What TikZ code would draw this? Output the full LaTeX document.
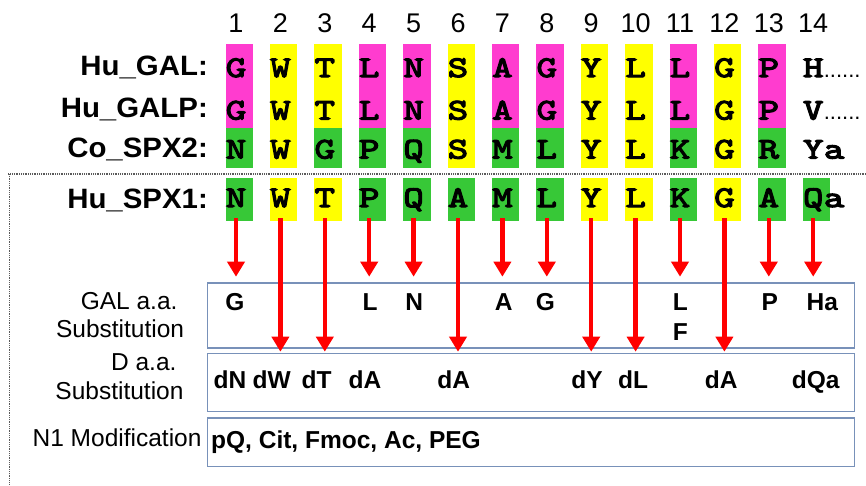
\documentclass[tikz,border=0pt]{standalone}
\usepackage{fontspec}
\setmainfont{Liberation Sans}
\newfontfamily\labfont{Liberation Sans}[FakeStretch=1.05]
\newfontfamily\aafont{lmmono10-regular.otf}[FakeBold=4,FakeStretch=1.3]
\usetikzlibrary{arrows.meta}
\definecolor{mag}{RGB}{255,60,207}
\definecolor{yel}{RGB}{255,255,0}
\definecolor{grn}{RGB}{55,200,55}
\definecolor{boxc}{RGB}{120,145,185}
\definecolor{sepc}{RGB}{90,90,90}
\begin{document}
\begin{tikzpicture}[x=1pt,y=-1pt,
  lab/.style={font=\labfont\fontsize{28}{30}\selectfont\bfseries, anchor=base east, inner sep=0},
  aa/.style={font=\aafont\fontsize{30}{32}\selectfont, anchor=base, inner sep=0},
  num/.style={font=\fontsize{27}{30}\selectfont, anchor=base, inner sep=0},
  sub/.style={font=\fontsize{24.5}{28}\selectfont\bfseries, anchor=base, inner sep=0},
  boxlab/.style={font=\fontsize{24.5}{28}\selectfont, anchor=base east, inner sep=0},
  panel/.style={draw=boxc, line width=1.3pt, fill=white, minimum width=647pt, inner sep=0, anchor=north west},
  arr/.style={draw=red, line width=4.5pt, -{Triangle[width=17pt,length=15pt]}},
  cell/.style={minimum width=27.5pt, minimum height=42.7pt, inner sep=0},
  sep/.style={draw=sepc, line width=1.3pt, dash pattern=on 1pt off 0.8pt},
]
\useasboundingbox (0,0) rectangle (866,485);

% separator
\draw[sep] (8.3,174) -- (866,174);
\draw[sep] (9.5,174) -- (9.5,485);

% row labels
\node[lab] (lgal)  at (208,75)    {Hu\_GAL:};
\node[lab] (lgalp) at (208,117.5) {Hu\_GALP:};
\node[lab] (lco)   at (208,157.7) {Co\_SPX2:};
\node[lab] (lspx)  at (208,208.3) {Hu\_SPX1:};

% top three rows
\foreach \i/\a/\b/\ca/\cb in {1/G/N/mag/grn, 2/W/W/yel/yel, 3/T/G/yel/grn, 4/L/P/mag/grn,
  5/N/Q/mag/grn, 6/S/S/yel/yel, 7/A/M/mag/grn, 8/G/L/mag/grn, 9/Y/Y/yel/yel,
  10/L/L/yel/yel, 11/L/K/mag/grn, 12/G/G/yel/yel, 13/P/R/mag/grn}{
  \pgfmathsetmacro{\c}{236+44.4*(\i-1)}
  \fill[\ca] ({\c-10.5},44.3) rectangle ({\c+17},128.2);
  \fill[\cb] ({\c-10.5},127.7) rectangle ({\c+17},168.3);
  \node[aa] (ra\i) at (\c,77) {\a};
  \node[aa] (rb\i) at (\c,119.5) {\a};
  \node[aa] (rc\i) at (\c,158.5) {\b};
}
\foreach \i in {1,...,14}{
  \pgfmathsetmacro{\c}{236+44.4*(\i-1)}
  \node[num] (n\i) at (\c,32) {\i};
}
% column 14 of the top rows
\node[aa] (ra14) at (813.2,77) {H};
\node[anchor=base west, inner sep=0, font=\fontsize{22}{24}\selectfont] (da14) at (ra14.base east) {......};
\node[aa] (rb14) at (813.2,119.5) {V};
\node[anchor=base west, inner sep=0, font=\fontsize{22}{24}\selectfont] (db14) at (rb14.base east) {......};
\node[aa] (rc14) at (813.2,158.5) {Y};
\node[aa, anchor=base west] (rcx14) at (rc14.base east) {a};

% Hu_SPX1 row
\foreach \i/\a/\cc in {1/N/grn, 2/W/yel, 3/T/yel, 4/P/grn, 5/Q/grn, 6/A/grn, 7/M/grn,
  8/L/grn, 9/Y/yel, 10/L/yel, 11/K/grn, 12/G/yel, 13/A/grn, 14/Q/grn}{
  \pgfmathsetmacro{\c}{236+44.4*(\i-1)}
  \node[cell, fill=\cc] (cell\i) at ({\c+3.25},199.65) {};
  \node[aa] (s\i) at (\c,207) {\a};
}
\node[aa, anchor=base west] (sx14) at (s14.base east) {a};

% panels
\node[panel, minimum height=65pt]   (galbox) at (206.7,282.3) {};
\node[panel, minimum height=58.3pt] (dbox)   at (206.7,352.7) {};
\node[panel, minimum height=48.7pt] (nbox)   at (206.7,417.3) {};

% panel labels
\node[boxlab] (g1) at (177.7,309.3) {GAL a.a.};
\node[boxlab] (g2) at (184.3,337.3) {Substitution};
\node[boxlab] (d1) at (176.7,370)   {D a.a.};
\node[boxlab] (d2) at (183.7,399.3) {Substitution};
\node[boxlab] (m1) at (201.7,446.7) {N1 Modification};

% GAL substitutions
\node[sub] (gG)  at (235,310)   {G};
\node[sub] (gL)  at (370,310)   {L};
\node[sub] (gN)  at (414.3,310) {N};
\node[sub] (gA)  at (503.7,310) {A};
\node[sub] (gG2) at (545.3,310) {G};
\node[sub] (gL2) at (680.3,310) {L};
\node[sub] (gF)  at (680.3,340) {F};
\node[sub] (gP)  at (769.7,310) {P};
\node[sub] (gH)  at (822.3,310) {Ha};

% D substitutions
\node[sub] (dN)  at (230,388.3)   {dN};
\node[sub] (dW)  at (271.7,388.3) {dW};
\node[sub] (dT)  at (316.7,388.3) {dT};
\node[sub] (dA1) at (365,388.3)   {dA};
\node[sub] (dA2) at (453.7,388.3) {dA};
\node[sub] (dY)  at (587,388.3)   {dY};
\node[sub] (dL)  at (633,388.3)   {dL};
\node[sub] (dA3) at (721.3,388.3) {dA};
\node[sub] (dQ)  at (815.7,388.3) {dQa};

% N1 modification
\node[sub, anchor=base west] (mods) at (211,448.3) {pQ, Cit, Fmoc, Ac, PEG};

% arrows
\foreach \i in {1,4,5,7,8,11,13,14}{
  \draw[arr] ([yshift=3pt]s\i |- cell\i.south) -- ([yshift=5.6pt]s\i |- galbox.north);
}
\foreach \i in {2,3,6,9,10,12}{
  \draw[arr] ([yshift=3pt]s\i |- cell\i.south) -- ([yshift=1pt]s\i |- dbox.north);
}
\end{tikzpicture}
\end{document}
